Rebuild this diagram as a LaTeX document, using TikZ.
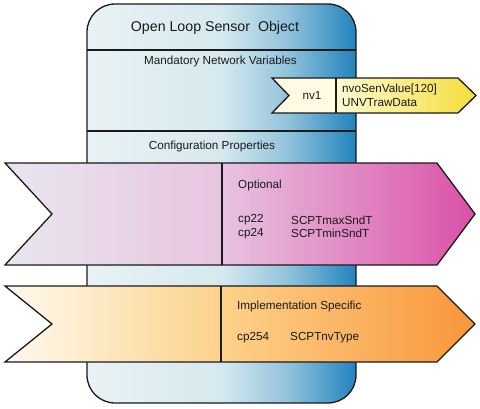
\documentclass[tikz,border=0pt]{standalone}
\usepackage{fontspec}
\setmainfont{Liberation Sans}
\usepackage{xcolor}
\usetikzlibrary{positioning}

\definecolor{ink}{HTML}{1A1A1A}
\definecolor{bodyA}{HTML}{E9F2F4}
\definecolor{bodyB}{HTML}{D6E9EF}
\definecolor{bodyC}{HTML}{93C4DC}
\definecolor{bodyD}{HTML}{2383BD}
\definecolor{magA}{HTML}{E8E6EF}
\definecolor{magB}{HTML}{E8C4E0}
\definecolor{magC}{HTML}{DA50A8}
\definecolor{oraA}{HTML}{FFFAF0}
\definecolor{oraB}{HTML}{FDD28A}
\definecolor{oraC}{HTML}{F8963A}
\definecolor{nvCream}{HTML}{FFFBE3}
\definecolor{nvA}{HTML}{FFF9CF}
\definecolor{nvB}{HTML}{F5DE3C}

\pgfdeclarehorizontalshading{bodyshade}{100bp}{color(0bp)=(bodyA); color(25bp)=(bodyA); color(50bp)=(bodyB); color(62bp)=(bodyC); color(75bp)=(bodyD); color(100bp)=(bodyD)}
\pgfdeclarehorizontalshading{magshade}{100bp}{color(0bp)=(magA); color(25bp)=(magA); color(48bp)=(magB); color(75bp)=(magC); color(100bp)=(magC)}
\pgfdeclarehorizontalshading{orashade}{100bp}{color(0bp)=(oraA); color(25bp)=(oraA); color(48bp)=(oraB); color(75bp)=(oraC); color(100bp)=(oraC)}
\pgfdeclarehorizontalshading{nvshade}{100bp}{color(0bp)=(nvA); color(25bp)=(nvA); color(75bp)=(nvB); color(100bp)=(nvB)}

\begin{document}
\begin{tikzpicture}[x=1pt,y=-1pt,line join=miter]
        \tikzstyle{outline}=[draw=ink,line width=1.3pt]
        \tikzstyle{every node}=[inner sep=0pt,text=ink,font=\fontsize{11.7}{14}\selectfont]
        \tikzstyle{label}=[anchor=west]
        \useasboundingbox (0,0) rectangle (480,408);
        % object body
        \shade[shading=bodyshade,rounded corners=28pt] (87,4) rectangle (356,403);
        \draw[outline,rounded corners=28pt] (87,4) rectangle (356,403);
        \draw[outline] (87,50) -- (356,50);
        \draw[outline] (87,131) -- (356,131);
        \node (Title) at (215,28) {\fontsize{14.2}{17}\selectfont Open Loop Sensor\ \ Object};
        \node (Mand) at (220.5,61) {Mandatory Network Variables};
        \node (Conf) at (212,146) {Configuration Properties};
        % network variable
        \fill[nvCream] (272,78) -- (336,78) -- (336,113) -- (272,113) -- (289,95.5) -- cycle;
        \shade[shading=nvshade] (336,78) -- (458,78) -- (476,95.5) -- (458,113) -- (336,113) -- cycle;
        \draw[outline] (272,78) -- (458,78) -- (476,95.5) -- (458,113) -- (272,113) -- (289,95.5) -- cycle;
        \draw[outline] (336,78) -- (336,113);
        \node (nv) at (312,95.5) {nv1};
        \node[label] (nvName) at (342,89) {nvoSenValue[120]};
        \node[label] (nvType) at (342,103) {UNVTrawData};
        % optional properties
        \shade[shading=magshade] (5,163) -- (437,163) -- (475,214) -- (437,265) -- (5,265) -- (52,214) -- cycle;
        \draw[outline] (5,163) -- (437,163) -- (475,214) -- (437,265) -- (5,265) -- (52,214) -- cycle;
        \draw[outline] (222,163) -- (222,265);
        \node[label] (Opt) at (238,185) {Optional};
        \node[label] (cpA) at (238,220) {cp22};
        \node[label] (cpAt) at (291,220) {SCPTmaxSndT};
        \node[label] (cpB) at (238,233.5) {cp24};
        \node[label] (cpBt) at (291,233.5) {SCPTminSndT};
        % implementation specific
        \shade[shading=orashade] (5,286) -- (437,286) -- (475,324) -- (437,362) -- (5,362) -- (52,324) -- cycle;
        \draw[outline] (5,286) -- (437,286) -- (475,324) -- (437,362) -- (5,362) -- (52,324) -- cycle;
        \draw[outline] (221,286) -- (221,362);
        \node[label] (Impl) at (237,306) {Implementation Specific};
        \node[label] (cpC) at (237,338) {cp254};
        \node[label] (cpCt) at (290,338) {SCPTnvType};
    \end{tikzpicture}
\end{document}
